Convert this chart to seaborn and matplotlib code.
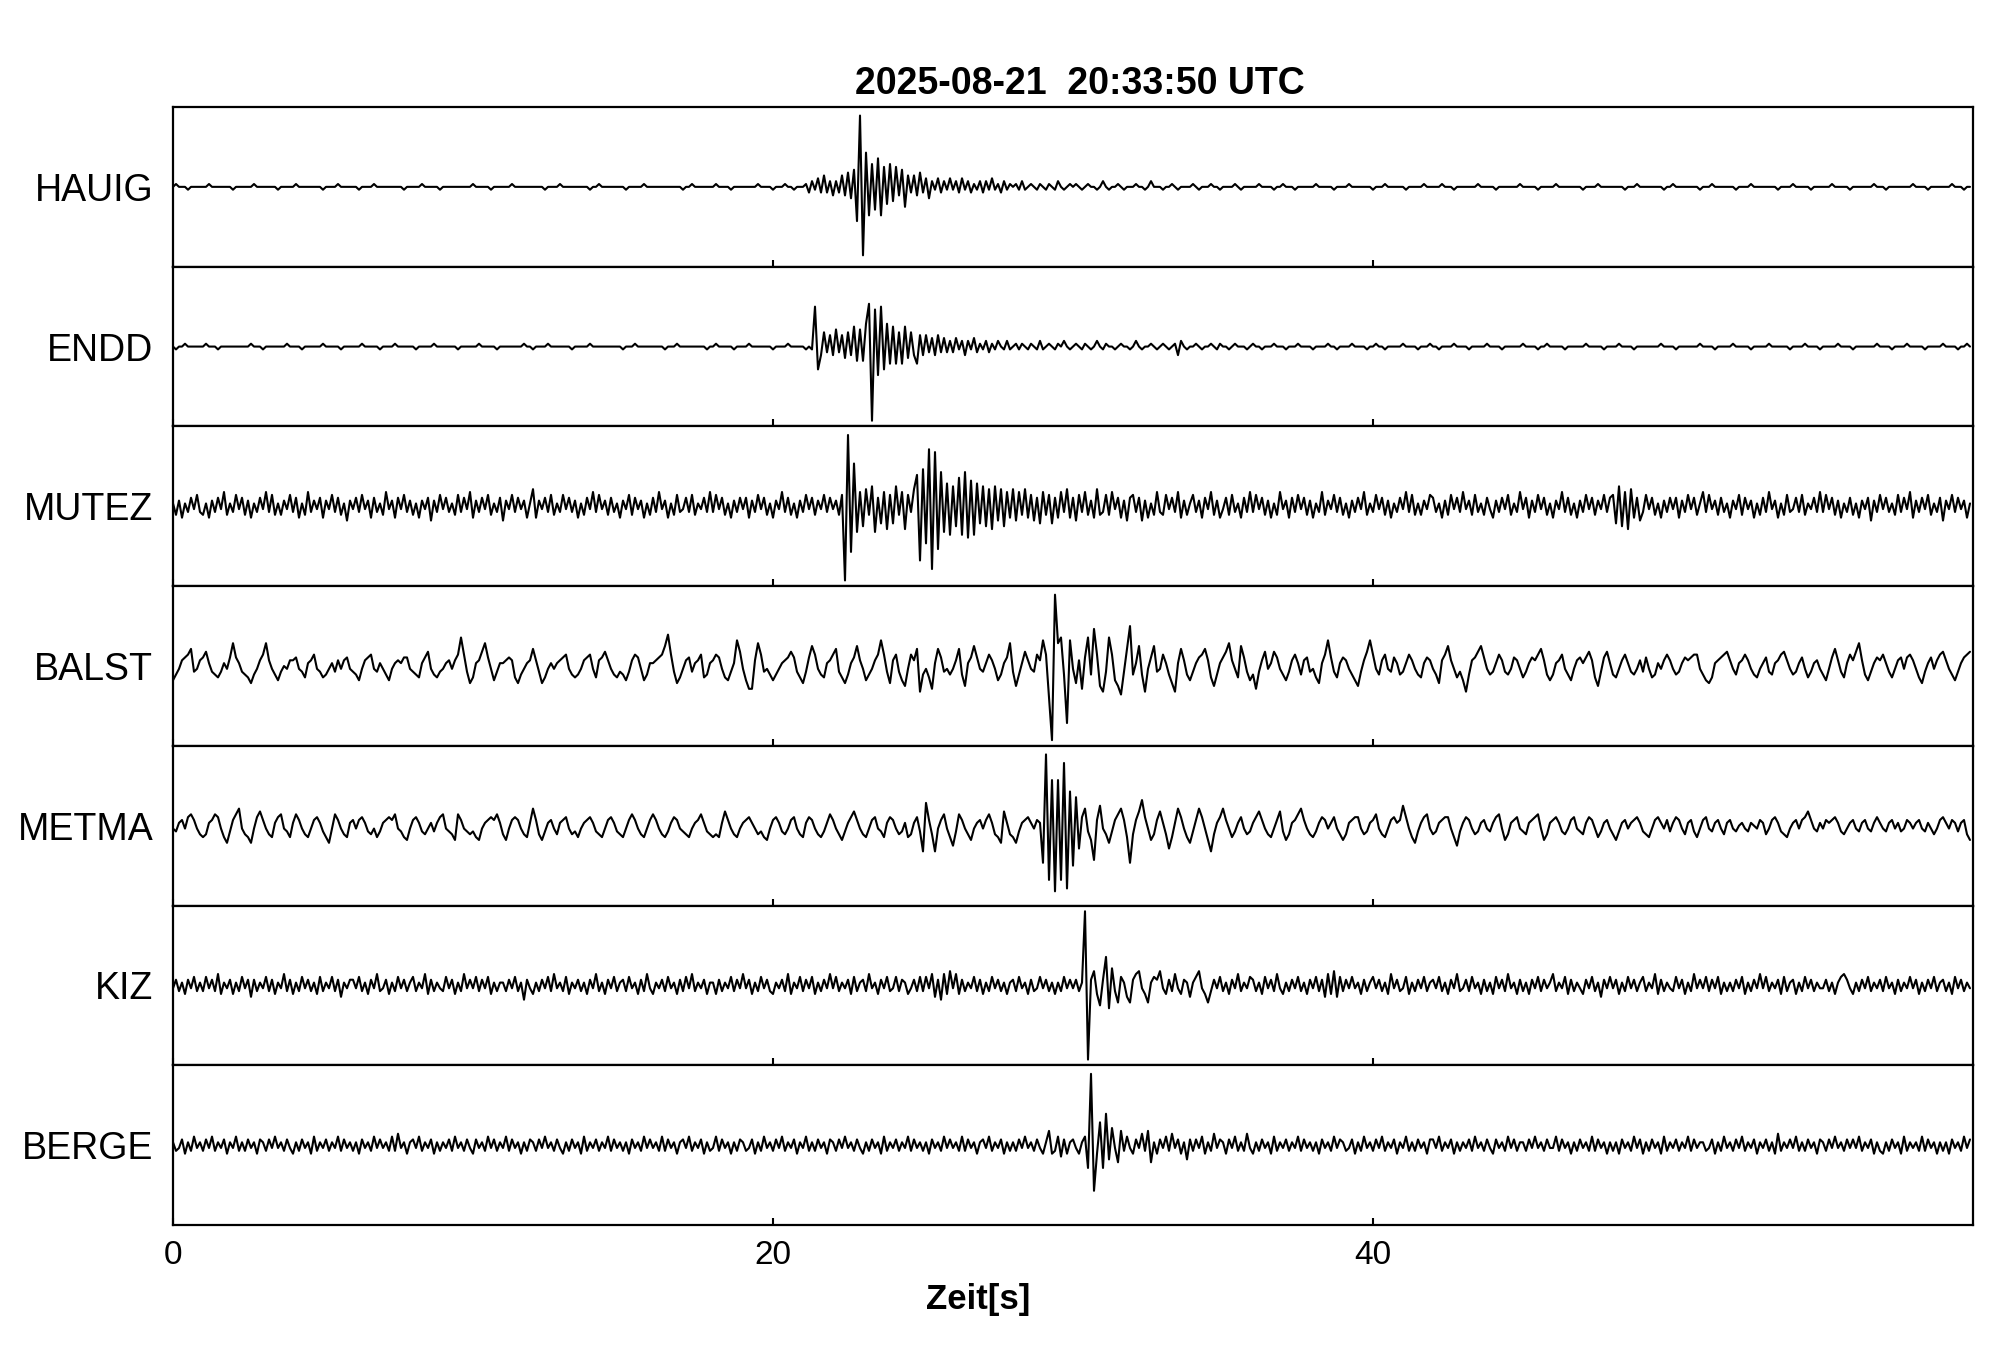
import numpy as np
import pandas as pd
import seaborn as sns
import matplotlib.pyplot as plt

sns.set_theme(style="ticks")
plt.rcParams['font.family'] = ['Liberation Sans', 'DejaVu Sans']
plt.rcParams['text.color'] = 'black'
plt.rcParams['xtick.color'] = 'black'

TITLE = "2025-08-21  20:33:50 UTC"
XLABEL = "Zeit[s]"
XTICKS = [0, 20, 40]
STATIONS = ["HAUIG", "ENDD", "MUTEZ", "BALST", "METMA", "KIZ", "BERGE"]

# Spuren: jede Zeile = 6 s, jede Gruppe = 1 s (10 Werte).
# Kodierung: '0' = 0, 'A'..'Z' = +1..+26, 'a'..'z' = -1..-26
HAUIG = [
    "0A000a0000 00A0000000 a000000A00 00000a0000 0A00000000 a0000A0000",
    "00a0000A00 0000000a00 000A00000a 0000000000 A00000a000 000A000000",
    "0000a0000A 000000000a 00A0000000 0a00000A00 0000000000 a00A000000",
    "0A0000a000 00000A0000 a000A00a00 0AbBaCbDbB cBbDcEdFlY xLjHhJjGfH",
    "eGcFgDbDcE bCdBaCbBaC aBbCaBbAaB bBaCaAbBaA 0AaBa0A0aA 0aA0aB0a0A",
    "0A0a0A00a0 B0a00A0a00 0A00a0B000 a00A0a0000 A0a000A00a 0000A0a000",
    "00A0000a00 A000a00000 0A00000a00 00A0000000 a000A00000 0a00000A00",
    "000A000a00 00000A0000 0a0000000A 00000a0000 0A00000000 a0000A0000",
    "0000a000A0 0000000a00 A00000000a 000A000000 0a0000A000 00000a0000",
    "A00000a000 000A00000a 0000000A00 0a00000000 A0000a0000 000A000a00",
]
ENDD = [
    "0a00A00000 0A000a0000 000000A000 a0000000A0 000a000000 A00000a000",
    "000A00000a 0000A00000 0a00000A00 00000a0000 00A00000a0 0000000A00",
    "a0000A0000 000a00000A 0000000000 a000A00000 0000a000A0 00000000a0",
    "0A00000a00 00A0000000 a0000A0000 0a0aNhcEbD cFbDdEcGeF eHOzMjNhHf",
    "GfEfGdEcfD cDbCcDbCbB bCaBcBaCbA aBbAaB0aBa 0AaA0aA0aB a0A0aA0B0a",
    "0A0aA0a0B0 aA00a0A00a 0B0a00A0a0 A0a0AcB0a0 0A0a00A0aA 00a0A000a0",
    "A00a000A00 0a000A0000 a0000A00a0 000A0000a0 0A00a00000 A0000a000A",
    "00a0000A00 00a00000A0 000a000000 A0000a00A0 0000a00000 0A00000a00",
    "00A0000a00 000000A000 0a0000000A 0000a00000 A00000a000 00A000000a",
    "0000A0000a 00000A0000 a0000000A0 000a0000A0 0000a00000 A0000a00A0",
]
MUTEZ = [
    "AcBdAbCaDb cAdBbCaEcA bDaCcBdAbC aEbDcAcBaD bCdAcEbBaC dBaDbCcAeB",
    "aCbDaBdCbA cEaBdCaDbB cAdBaCeBbD aCbAcDbCaE dBbCaDcAbC eBaDbCaBdA",
    "FdBaCbDcAb DaCbBdAcCa EbDaBcCbAd BaDcCaBdAc CbEaBdAcDb aCbDcAaCbE",
    "bDaCcAdBbC aCdBbDaCcA dBaEbCcAdB bDaCcBaDbC aBcDzYpOiE gFcGiCfEhD",
    "fGcEhDbFKs MmTvSoLiHj GgJjLkIjHf GgFhGeFgEd FeEcFdDeCf EcDfCdEbFd",
    "CeDbEcBdFc bDcEaCdBeC DbCeBdAcEb cDaCbEdBcA DbBdCaEcBd aCcDbAdCbE",
    "bDaCcBdAcE aBdCbDaCcB dAbEcBaDbC cAdBbCaEcA bDaCcBdAbC aEbDcAcBaD",
    "CbAdBcDaCb EaBcDbAcCa dBbCaDcAbE aCdBbDaCcA dBaEbCcAdB bDaCcBaDbC",
    "DfGgEhFdCe bDaCcAdBbC aCdBbDaCcA EbDaBcCbAd BaDcCaBdAc CbEaBdAcDb",
    "aCbDcAaCbE bDaCcBdAbC cAdBaCeBbD aCbAcDbCaE dBbCaDcAbC eBaDbCaBdA",
]
BALST = [
    "ecaBCDFbaB CEAbcdbAaC HCAbcdfcaB DHBaceb0aB BCabdABDab dcaAbBaBCa",
    "bceaBCDabA aceaABACCa bcdACEacdb aABaBDJDbf dABEHCaebA ABCBdfcaAB",
    "FBbfdaAaAB CDacdcaBCD adBCEBacdb cebBDCaecA ABCDGKDbfd aBCbABDdcA",
    "BDCadebAIE aehhBHDbac ecaABCECbd fbCGDacdAB DFbdfcACGB aecaBDIDbf",
    "BDbegaDBFi cadhAFCbac aBFcgACGCa bADBaecACH bgcAEBabDB IDkzYHJctI",
    "afBhCJcMDg ibJDegjbFN cAGciaCGba DAcfiAFBce bACDFBdgcA CEHBadGCbe",
    "chbBEaAECa cebBDAcBCb adfADICbdA CBacegbBEI DacBDabCAc bADBacdACB",
    "acfBDGBadb eicBCEGCac bADBbcaCBa dbACBDFBce cABDaceaBC ACEBdgbCEA",
    "cdaBDAbcaB bCadcAaBDB acbACBCDDa cefdABCDEB acABDBacda ACbcABDEBa",
    "cbACadbABa ceaCFBbdAD BEHBcebACB DAbdaBCaCD BadfbACaBD EBacebACDE",
]
METMA = [
    "abABaCDBac dcABDCadfb BDFacdfaCE BacdACDabd ADBacdaBCA bdfaDBacdA",
    "BaBCAbcadb ABCBDabdea BCAbcaAbAC DabceDBabc bdeaABCBDA ceaBCBacdA",
    "FBcebABacA BCacbdaABC AbcdaBCAbc daBDBacdaB DBacdbACBa bcdaABDAbc",
    "dcdAEBacda ABCAacbdea BCAbcaBCac dACBacdbAD BacebACEBa cdaBCabdAC",
    "BacbAdcACb iHBciaBDad gbDBaceaAB aBDAcdfEAc dfbABCAaBA mYsPwPsVvL",
    "nJhCFbelBG acfbBDFBdm cBEICaecBE AchdAFCadf bBFCaeicAC FBadbACacb",
    "ACEBacdaBE becABDFBac dbACBaACac ecABCCacbA BDacdaBCAB GCadfbACDa",
    "cbABCCadgb ACBacbABab ACDaecABCa bcABCDaecA BCAbcaBCab cACBadbABa",
    "cebABaABCA bcdaBCAaBb ACBacABbda BCabABacAB ab0AabA0aB AcaBCAbcda",
    "ABaBCEBabA aBABCAbcaA BabABabACA abABaAbaBA aABabAacaB CAaBAbABce",
]
KIZ = [
    "aBbAcBaCbA bCaBbDcAaB cAbCaBdBbA aCbBcAaDbB cAbCaBbAcC bAaCbBdAaB",
    "BaCbAcBaDb aBcAbCaBbA CbAaDcBbAa bCaBcAbDaB aCbBaCcAbA AbBaCbAeBa",
    "cAbBaCbDaA bCcAaBbAcB aDbAcBaCbA BbCaAcBbDa cAaBbCaAcB bCaDbAaBcA",
    "AcBbAaCbBa DaBcAbCaBb cAaBbDcAaC bBaCcAbBaD aCbAaBcCbA BbDaAcBaCb",
    "aCbBAcaBbC bCaDdBeDcE aDcBbAaCbB cAbCaBbAcA BbCaAcBbaC aBbAcAbCaB",
    "aBbAZzBEcg BJhFbfCAdf BDEacfACBE acBbDacBAd ACEacfbBaC bAcBaDbAaC",
    "BbAcCaBbDa cAbBaCbAcB aCbBdDcEdC bBaCaAcBbA CaBbAcDaBb aCcAbBaCbA",
    "BaCbAcBaDb aBbCaAcBbA cCaBbDaAcB bAcBaCbBaA DbAaCcBbAa cBaCbAdBaC",
    "aBcAbCaBbA CbAaDcBbAa bCaBcAbDaB aCbBaCcAbA bBaCcAbBaD aCbAaBcCbA",
    "BcAbCaBbAa aBbAcACDBa cAbBaCbAaB bCaAcBbAaC aBcAbBaCbA BbAcCaBbAa",
]
BERGE = [
    "AbaBcAbCaA bBaCbAaBcA aCbAbBaAcB AbBaCaAbBa cAbBaAcCbA aBbAaCbBaA",
    "bAcBaAbCaB aAbCbDaAcA BaCbAaBcAb AaBbCaAbBa cBaAbCaBbA aCbBaAcAbB",
    "AbBaCaAbBa cAbBaAcCbA aBbAaCbBaA bAcBaAbCaB aAbCbBaAcA BaCbAaBcAb",
    "aCbBaAcAbB AbaBcAbCaA bBaCbAaBcA aCbAbBaAcB AbBaCaAbBa cAbBaAcCbA",
    "aBbAaCbBaA bAcBaAbCaB aAbCbBaAcA BaCbAaBcAb AbBaCaAbBa cAEcbCdBcA",
    "BacAChYpcH hKeFafEbCa cBaDbEfAcB aCbDaBcAeB bBaCcAbDaB AcBaCbAbDa",
    "cAbBaAcCbA aBbAaCbBaA bAcBaAbCaB AbaBcAbCaA bBaCbAaBcA aCbAbBaAcB",
    "BaCbAaBcAb AaBbCaAbBa cBaAbCaBbA AbBaCaAbBa aCbBaAcAbB aAbCbBaAcA",
    "bAcBaAbCaB cAbBaAcCbA aBbAaCbBaA AbaBcAbCaA bBaCbAaBcA aBbAcDbAaB",
    "aCbAbBaAcB AbBaCaAbBa BaCbAaBcAb cAbBaAcCbA aAbCbBaAcA bAcBaAbCaB",
]
TRACES = [HAUIG, ENDD, MUTEZ, BALST, METMA, KIZ, BERGE]


def decode(rows, name):
    t, v = [], []
    for r, row in enumerate(rows):
        for g, grp in enumerate(row.split()):
            for j, ch in enumerate(grp):
                t.append(r * 6 + g + j / len(grp))
                if ch == "0":
                    v.append(0)
                elif ch.isupper():
                    v.append(ord(ch) - 64)
                else:
                    v.append(-(ord(ch) - 96))
    return pd.DataFrame({"Zeit": t, "Wert": v, "Station": name})


df = pd.concat([decode(rows, n) for rows, n in zip(TRACES, STATIONS)], ignore_index=True)

fig, axes = plt.subplots(len(STATIONS), 1, sharex=True, figsize=(20.05, 13.61), dpi=100)
fig.subplots_adjust(left=173 / 2005, right=1973 / 2005, top=1 - 107 / 1361,
                    bottom=1 - 1225 / 1361, hspace=0)

for ax, name in zip(axes, STATIONS):
    sns.lineplot(data=df[df["Station"] == name], x="Zeit", y="Wert", ax=ax,
                 color="black", linewidth=1.5, estimator=None, sort=False)
    ax.set_xlim(0, 60)
    ax.set_ylim(-28, 28)
    ax.set_yticks([])
    ax.set_xlabel("")
    ax.set_ylabel("")
    ax.set_xticks(XTICKS)
    ax.tick_params(axis="x", direction="in", length=5, width=1.5, top=False,
                   labelsize=24, pad=11, colors="black")
    for sp in ax.spines.values():
        sp.set_linewidth(1.6)
        sp.set_color("black")
    ax.text(-0.011, 0.475, name, transform=ax.transAxes, ha="right", va="center",
            fontsize=27, color="black")

fig.text(1079.5 / 2005, 1 - 84 / 1361, TITLE, ha="center", va="center",
         fontsize=27, fontweight="bold", color="black")
fig.text(978 / 2005, 1 - 1299 / 1361, XLABEL, ha="center", va="center",
         fontsize=25, fontweight="bold", color="black")

plt.savefig("out.png", dpi=100, facecolor="white")
plt.close()
